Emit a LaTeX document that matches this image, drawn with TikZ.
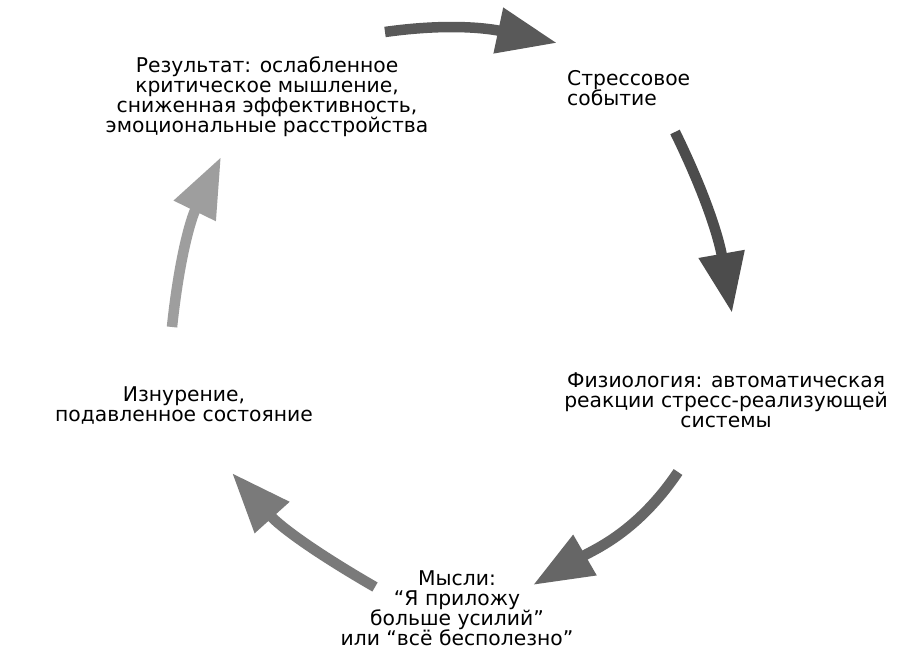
\documentclass[tikz,border=0pt]{standalone}
\usepackage{fontspec}
\setmainfont{DejaVu Sans}
\usetikzlibrary{arrows.meta, positioning, calc}

\begin{document}
\begin{tikzpicture}[x=1pt, y=1pt,
    label text/.style={align=center, font=\fontsize{20.3}{20}\selectfont, text=black, inner sep=0pt},
    cycle arrow/.style={line width=10.5pt, -{Triangle[width=44pt, length=60pt]}}]
        \useasboundingbox[fill=white] (0,0) rectangle (912,668);
        % Texts of the cycle
        \node[label text] (result) at (267,571) {Результат: ослабленное\\критическое мышление,\\сниженная эффективность,\\эмоциональные расстройства};
        \node[label text, align=left, anchor=west] (event) at (567,580) {Стрессовое\\событие};
        \node[label text] (physio) at (726,268) {Физиология: автоматическая\\реакции стресс-реализующей\\системы};
        \node[label text] (thoughts) at (457,60) {Мысли:\\“Я приложу\\больше усилий”\\или “всё бесполезно”};
        \node[label text] (exhaust) at (184,262) {Изнурение,\\подавленное состояние};
        % Arrow ends
        \coordinate (a1) at (385,636); \coordinate (b1) at (557,625);
        \coordinate (a2) at (675,536); \coordinate (b2) at (732,355);
        \coordinate (a3) at (678,196); \coordinate (b3) at (533,83);
        \coordinate (a4) at (375,81);  \coordinate (b4) at (232,195);
        \coordinate (a5) at (172,341); \coordinate (b5) at (221,511);
        % Arrows
        \draw[cycle arrow, black!65] (a1) to[out=8, in=168] (b1);
        \draw[cycle arrow, black!70] (a2) to[out=-64, in=100] (b2);
        \draw[cycle arrow, black!60] (a3) to[out=-124, in=30] (b3);
        \draw[cycle arrow, black!52] (a4) to[out=150, in=-48] (b4);
        \draw[cycle arrow, black!38] (a5) to[out=84, in=-116] (b5);
    \end{tikzpicture}
\end{document}
